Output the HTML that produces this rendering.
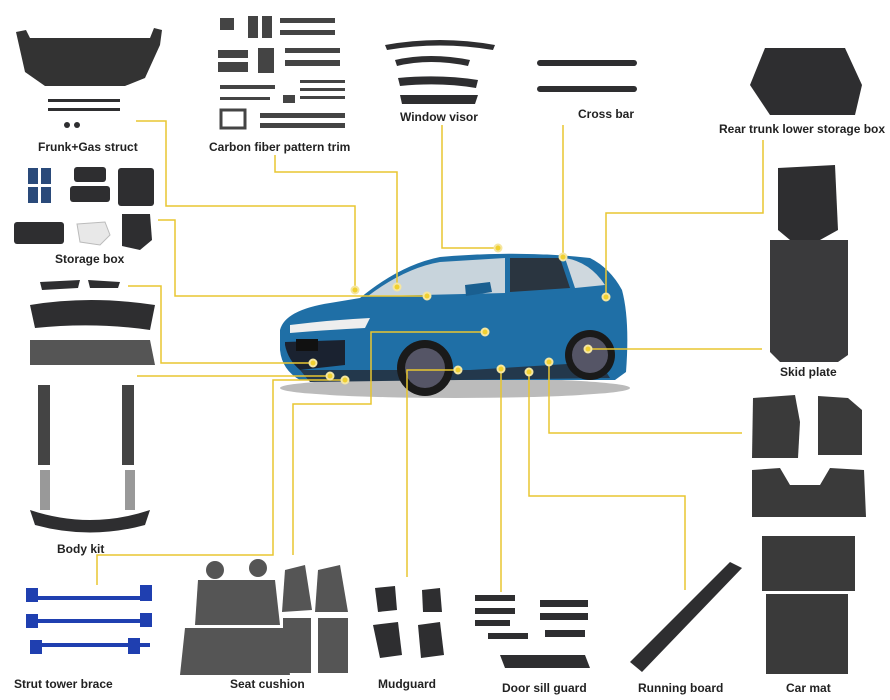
<!DOCTYPE html>
<html><head><meta charset="utf-8"><style>
html,body{margin:0;padding:0;background:#fff;}
#w{position:relative;width:890px;height:700px;overflow:hidden;font-family:"Liberation Sans",sans-serif;}
.l{position:absolute;font-size:12px;font-weight:bold;color:#222;white-space:nowrap;}
svg{position:absolute;left:0;top:0;}
</style></head><body><div id="w">
<svg width="890" height="700" viewBox="0 0 890 700">
<g fill="#2e2e30">
<!-- frunk -->
<path d="M16 32 L26 30 L30 38 L150 38 L154 28 L162 30 L160 45 L145 78 L125 86 L45 86 L25 72Z" fill="#333"/>
<rect x="48" y="99" width="72" height="3"/><rect x="48" y="108" width="72" height="3"/>
<circle cx="67" cy="125" r="3"/><circle cx="77" cy="125" r="3"/>
<!-- carbon -->
<g fill="#444">
<rect x="220" y="18" width="14" height="12"/><rect x="248" y="16" width="10" height="22"/><rect x="262" y="16" width="10" height="22"/>
<rect x="280" y="18" width="55" height="5"/><rect x="280" y="30" width="55" height="5"/>
<rect x="218" y="50" width="30" height="8"/><rect x="258" y="48" width="16" height="25"/><rect x="285" y="48" width="55" height="5"/>
<rect x="218" y="62" width="30" height="10"/><rect x="285" y="60" width="55" height="6"/>
<rect x="220" y="85" width="55" height="4"/><rect x="300" y="80" width="45" height="3"/><rect x="300" y="88" width="45" height="3"/><rect x="300" y="96" width="45" height="3"/>
<rect x="220" y="97" width="50" height="3"/><rect x="283" y="95" width="12" height="8"/>
<rect x="221" y="110" width="24" height="18" fill="none" stroke="#444" stroke-width="3"/>
<rect x="260" y="113" width="85" height="5"/><rect x="260" y="123" width="85" height="5"/>
</g>
<!-- window visor -->
<path d="M385 45 Q440 35 495 45 L493 50 Q440 41 387 50Z"/>
<path d="M395 60 Q430 52 470 60 L468 66 Q430 58 397 66Z"/>
<path d="M398 78 Q440 74 478 80 L476 88 Q440 82 400 86Z"/>
<path d="M400 95 L478 95 L475 104 L402 104Z"/>
<!-- cross bar -->
<rect x="537" y="60" width="100" height="6" rx="3"/><rect x="537" y="86" width="100" height="6" rx="3"/>
<!-- rear trunk -->
<path d="M765 48 L845 48 L862 85 L855 115 L770 115 L750 85Z"/>
<!-- storage box -->
<rect x="28" y="168" width="10" height="16" fill="#2a4a7a"/><rect x="41" y="168" width="10" height="16" fill="#2a4a7a"/><rect x="28" y="187" width="10" height="16" fill="#2a4a7a"/><rect x="41" y="187" width="10" height="16" fill="#2a4a7a"/>
<rect x="74" y="167" width="32" height="15" rx="3"/><rect x="70" y="186" width="40" height="16" rx="3"/>
<rect x="118" y="168" width="36" height="38" rx="3"/>
<rect x="14" y="222" width="50" height="22" rx="3"/>
<path d="M77 224 L105 222 L110 235 L100 245 L80 242Z" fill="#e8e8e8" stroke="#bbb"/>
<path d="M122 214 L150 214 L152 240 L140 250 L122 246Z"/>
<!-- skid plate -->
<path d="M778 168 L835 165 L838 230 L820 240 L790 240 L778 230Z"/>
<path d="M770 240 L848 240 L848 355 L838 362 L780 362 L770 352Z" fill="#3a3a3c"/>
<!-- car mats -->
<path d="M753 398 L795 395 L800 422 L798 458 L752 458Z" fill="#3a3a3a"/>
<path d="M818 396 L848 398 L862 410 L862 455 L818 455Z" fill="#3a3a3a"/>
<path d="M752 470 L780 468 L790 485 L820 485 L830 468 L864 470 L866 517 L752 517Z" fill="#3a3a3a"/>
<rect x="762" y="536" width="93" height="55" fill="#3a3a3a"/>
<rect x="766" y="594" width="82" height="80" fill="#3a3a3a"/>
<!-- body kit -->
<path d="M40 282 L80 280 L78 288 L42 290Z"/><path d="M88 280 L120 282 L118 288 L90 288Z"/>
<path d="M30 305 Q90 295 155 305 L150 330 Q95 322 35 328Z"/>
<path d="M30 340 L150 340 L155 365 L30 365Z" fill="#555"/>
<rect x="38" y="385" width="12" height="80" fill="#444"/><rect x="122" y="385" width="12" height="80" fill="#444"/>
<rect x="40" y="470" width="10" height="40" fill="#999"/><rect x="125" y="470" width="10" height="40" fill="#999"/>
<path d="M30 510 Q90 530 150 510 L145 525 Q90 540 35 525Z"/>
<!-- seats -->
<g fill="#555">
<circle cx="215" cy="570" r="9"/><circle cx="258" cy="568" r="9"/>
<path d="M198 580 L275 580 L280 625 L195 625Z"/>
<path d="M185 628 L285 628 L290 675 L180 675Z"/>
<path d="M285 570 L305 565 L312 610 L282 612Z"/><path d="M318 570 L340 565 L348 612 L315 612Z"/>
<rect x="283" y="618" width="28" height="55"/><rect x="318" y="618" width="30" height="55"/>
</g>
<!-- mudguard -->
<path d="M375 588 L395 586 L397 610 L378 612Z"/><path d="M422 590 L440 588 L442 612 L423 612Z"/>
<path d="M373 625 L398 622 L402 655 L380 658Z"/><path d="M418 625 L440 622 L444 655 L421 658Z"/>
<!-- door sill -->
<rect x="475" y="595" width="40" height="6"/><rect x="475" y="608" width="40" height="6"/><rect x="475" y="620" width="35" height="6"/><rect x="488" y="633" width="40" height="6"/>
<rect x="540" y="600" width="48" height="7"/><rect x="540" y="613" width="48" height="7"/><rect x="545" y="630" width="40" height="7"/>
<path d="M500 655 L585 655 L590 668 L505 668Z"/>
<!-- running board -->
<path d="M630 662 L730 562 L742 568 L642 672Z"/>
</g>
<!-- strut brace blue -->
<g fill="#1f3fb0">
<rect x="30" y="596" width="120" height="4"/><rect x="30" y="619" width="120" height="4"/><rect x="30" y="643" width="120" height="4"/>
<rect x="26" y="588" width="12" height="14"/><rect x="140" y="585" width="12" height="16"/>
<rect x="26" y="614" width="12" height="14"/><rect x="140" y="613" width="12" height="14"/>
<rect x="30" y="640" width="12" height="14"/><rect x="128" y="638" width="12" height="16"/>
</g>
<!-- car -->
<g>
<ellipse cx="455" cy="388" rx="175" ry="10" fill="#bbb"/>
<path d="M280 330 Q285 310 330 303 L360 298 Q400 265 440 257 Q520 250 590 258 Q610 268 622 290 Q630 320 626 372 L615 380 L300 380 Q282 370 280 350Z" fill="#1f6fa6"/>
<path d="M368 296 Q405 268 440 262 L505 258 L505 293 L380 296Z" fill="#c8d4dc"/>
<path d="M510 258 L560 258 L570 288 L510 292Z" fill="#2a3540"/>
<path d="M565 258 Q590 262 605 285 L575 288Z" fill="#cfd8de"/>
<path d="M285 342 L345 340 L345 365 L300 370 Q288 360 285 345Z" fill="#1a2230"/>
<rect x="296" y="339" width="22" height="12" fill="#111"/>
<path d="M290 325 Q330 320 370 318 L365 328 Q325 330 290 333Z" fill="#eee"/>
<path d="M300 370 L470 370 L600 362 L610 378 L310 382Z" fill="#23384c"/>
<circle cx="425" cy="368" r="28" fill="#1a1a1a"/><circle cx="425" cy="368" r="20" fill="#556"/>
<circle cx="590" cy="355" r="25" fill="#1a1a1a"/><circle cx="590" cy="355" r="18" fill="#556"/>
<path d="M465 285 L490 282 L492 292 L466 296Z" fill="#1a5f90"/>
</g>
<!-- connectors -->
<g fill="none" stroke="#e8c630" stroke-width="1.5">
<polyline points="136,121 166,121 166,206 355,206 355,290"/>
<polyline points="275,155 275,172 397,172 397,287"/>
<polyline points="442,125 442,248 498,248"/>
<polyline points="563,125 563,257"/>
<polyline points="763,140 763,213 606,213 606,297"/>
<polyline points="158,220 175,220 175,296 427,296"/>
<polyline points="128,286 161,286 161,363 313,363"/>
<polyline points="137,376 330,376"/>
<polyline points="345,380 273,380 273,555 97,555 97,585"/>
<polyline points="485,332 371,332 371,404 293,404 293,555"/>
<polyline points="458,370 407,370 407,577"/>
<polyline points="501,369 501,592"/>
<polyline points="529,372 529,496 685,496 685,590"/>
<polyline points="549,362 549,433 742,433"/>
<polyline points="588,349 762,349"/>
</g>
<g fill="#f0d030" stroke="#f5e6a0" stroke-width="2">
<circle cx="355" cy="290" r="3.5"/><circle cx="397" cy="287" r="3.5"/><circle cx="427" cy="296" r="3.5"/>
<circle cx="498" cy="248" r="3.5"/><circle cx="563" cy="257" r="3.5"/><circle cx="606" cy="297" r="3.5"/>
<circle cx="313" cy="363" r="3.5"/><circle cx="330" cy="376" r="3.5"/><circle cx="345" cy="380" r="3.5"/>
<circle cx="485" cy="332" r="3.5"/><circle cx="458" cy="370" r="3.5"/><circle cx="501" cy="369" r="3.5"/>
<circle cx="529" cy="372" r="3.5"/><circle cx="549" cy="362" r="3.5"/><circle cx="588" cy="349" r="3.5"/>
</g>
</svg>
<div class="l" style="left:38px;top:140px">Frunk+Gas struct</div>
<div class="l" style="left:209px;top:140px">Carbon fiber pattern trim</div>
<div class="l" style="left:400px;top:110px">Window visor</div>
<div class="l" style="left:578px;top:107px">Cross bar</div>
<div class="l" style="left:719px;top:122px">Rear trunk lower storage box</div>
<div class="l" style="left:55px;top:252px">Storage box</div>
<div class="l" style="left:780px;top:365px">Skid plate</div>
<div class="l" style="left:57px;top:542px">Body kit</div>
<div class="l" style="left:14px;top:677px">Strut tower brace</div>
<div class="l" style="left:230px;top:677px">Seat cushion</div>
<div class="l" style="left:378px;top:677px">Mudguard</div>
<div class="l" style="left:502px;top:681px">Door sill guard</div>
<div class="l" style="left:638px;top:681px">Running board</div>
<div class="l" style="left:786px;top:681px">Car mat</div>
</div></body></html>
